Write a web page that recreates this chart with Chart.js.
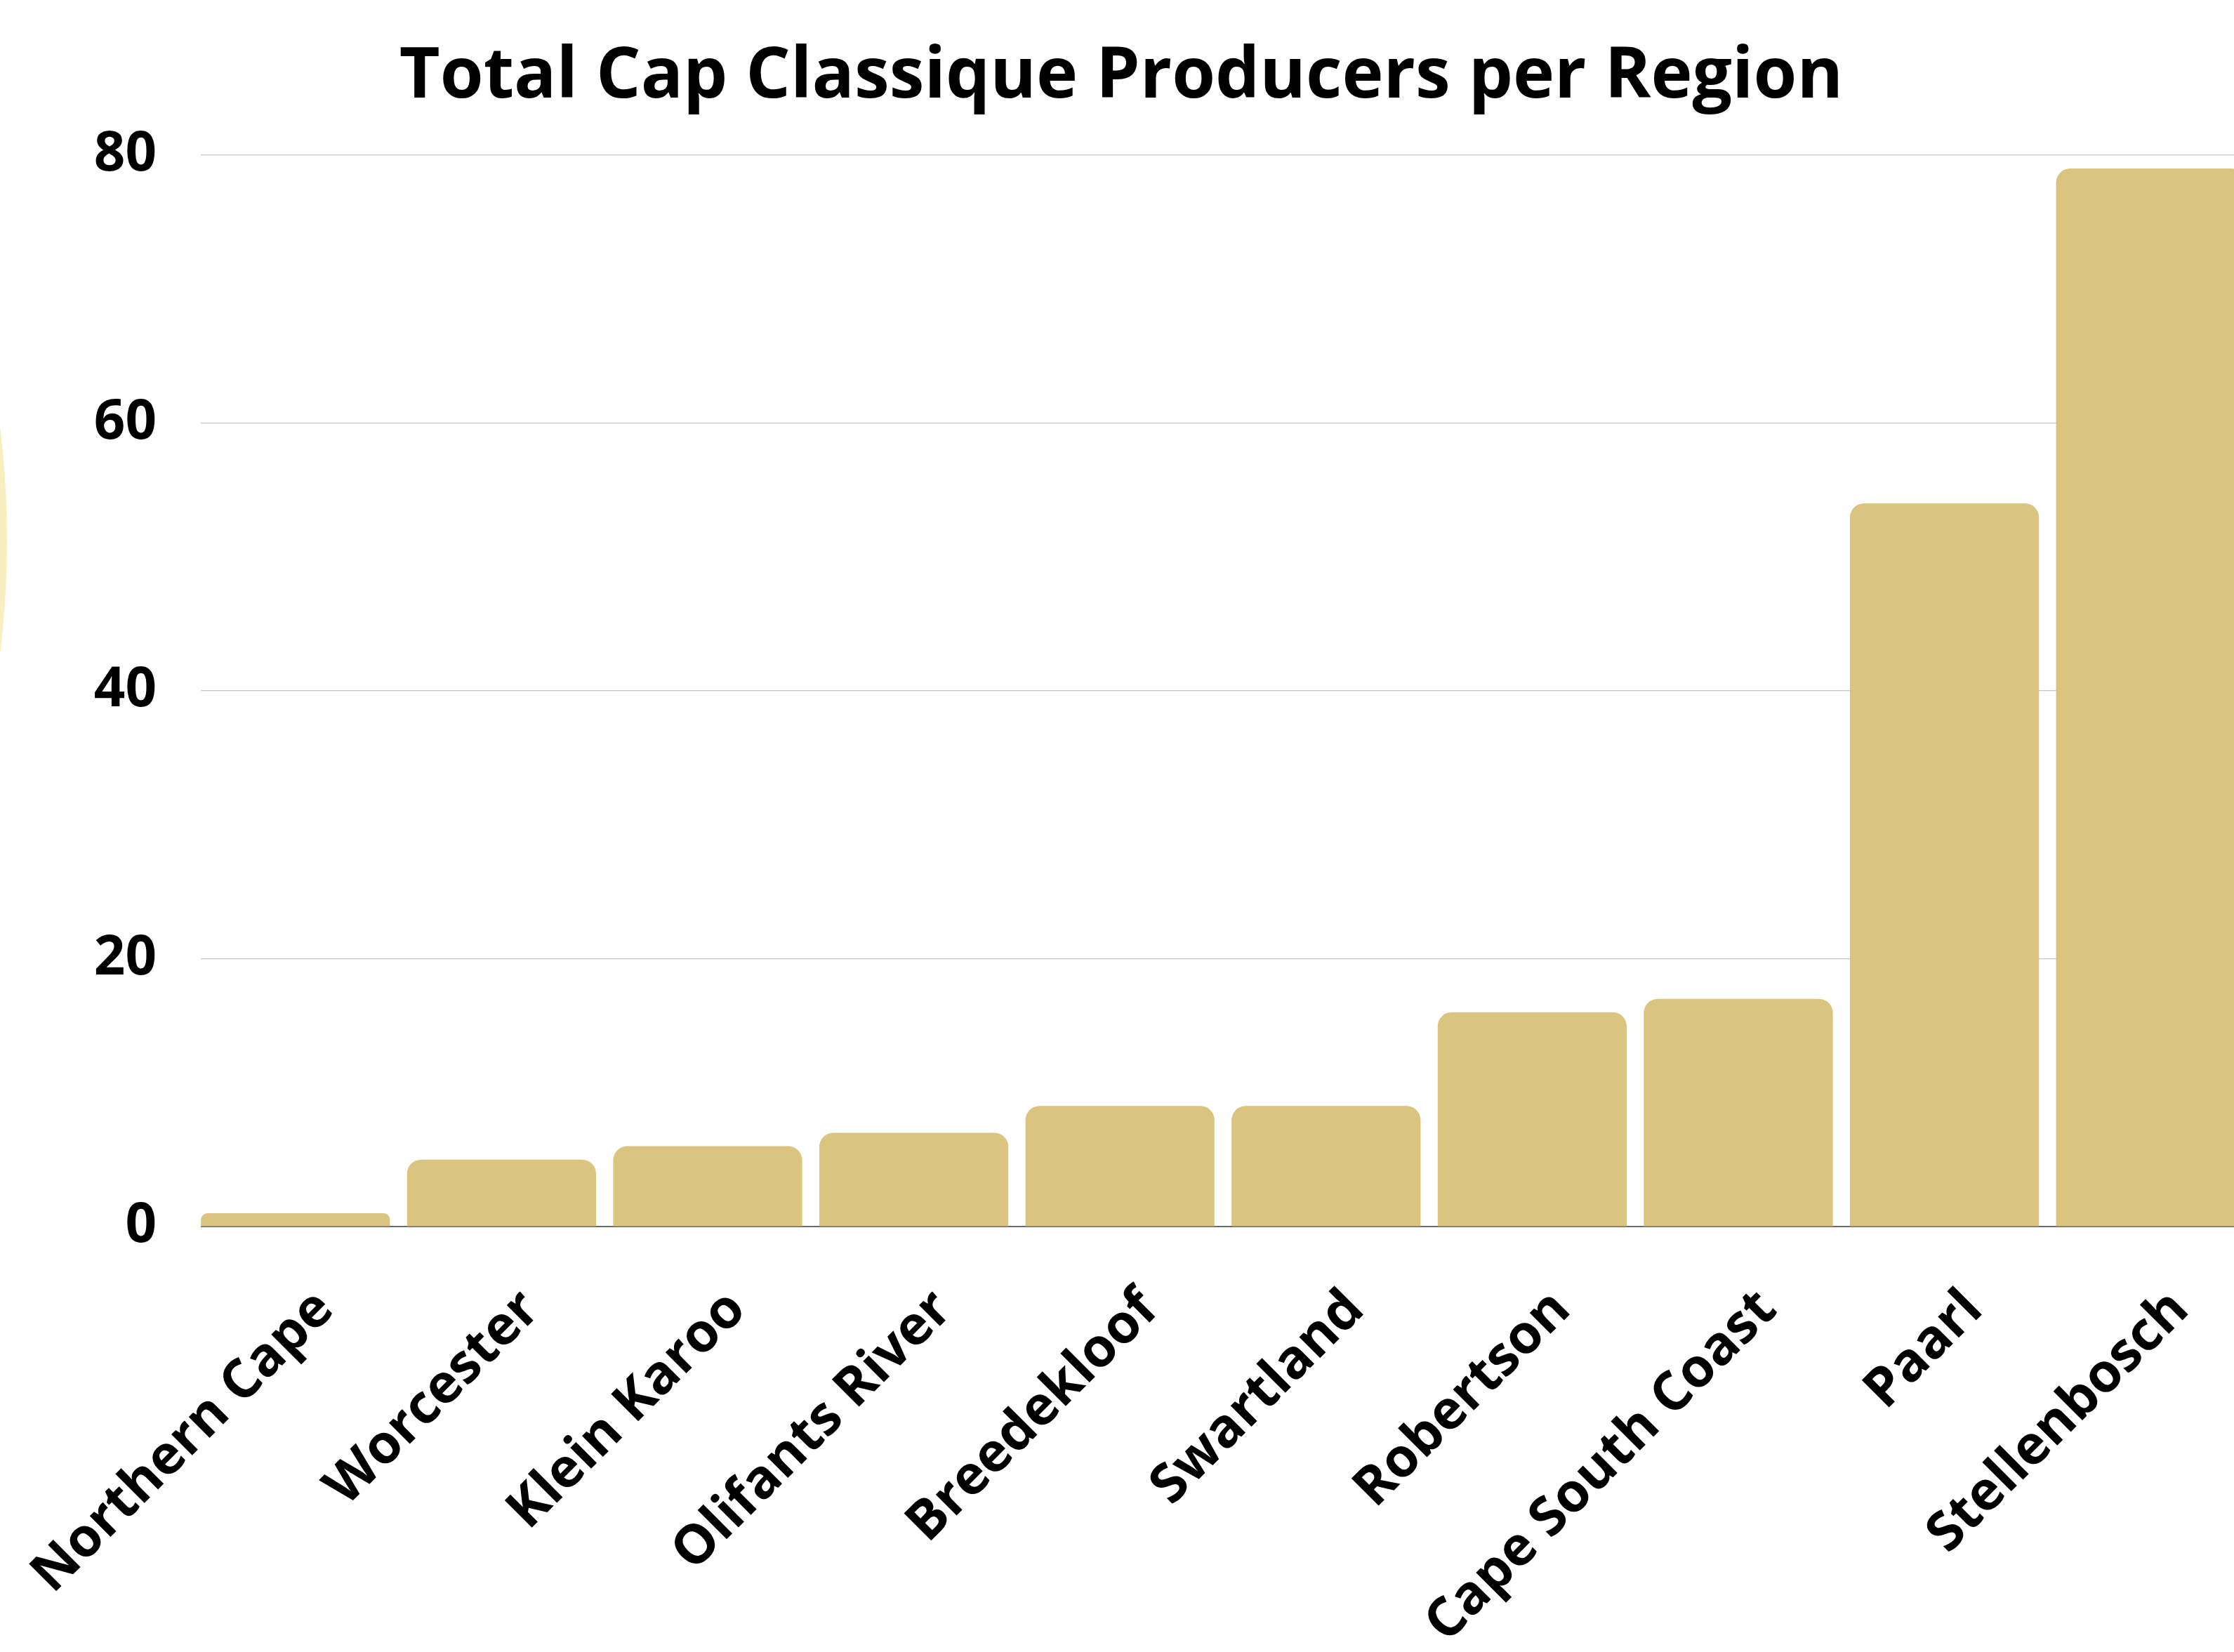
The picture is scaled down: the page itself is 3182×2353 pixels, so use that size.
<!DOCTYPE html>
<html>
<head>
<meta charset="utf-8">
<script src="https://cdn.jsdelivr.net/npm/chart.js@4.4.1/dist/chart.umd.min.js"></script>
<style>
  html, body { margin: 0; padding: 0; background: #ffffff; overflow: hidden; }
  #wrap { position: absolute; left: 0; top: 0; width: 3210px; height: 2353px; }
  canvas { display: block; }
</style>
</head>
<body>
<div id="wrap"><canvas id="c" width="3210" height="2353"></canvas></div>
<script>
// ---- data ----
const categories = ["Northern Cape", "Worcester", "Klein Karoo", "Olifants River", "Breedekloof",
                    "Swartland", "Robertson", "Cape South Coast", "Paarl", "Stellenbosch"];
const producers = [1, 5, 6, 7, 9, 9, 16, 17, 54, 79];
const yTicks = [0, 20, 40, 60, 80];
const chartTitle = "Total Cap Classique Producers per Region";

const FONT = "'Open Sans', 'DejaVu Sans', sans-serif";

// decorative pale circle at the left edge
const bgCircle = {
  id: 'bgCircle',
  beforeDraw(chart) {
    const ctx = chart.ctx;
    ctx.save();
    ctx.fillStyle = '#F8EEC0';
    ctx.beginPath();
    ctx.arc(-1307, 770, 1317, 0, Math.PI * 2);
    ctx.fill();
    ctx.restore();
  }
};

// grid lines / baseline start where the first bar starts
const trimGridStart = {
  id: 'trimGridStart',
  beforeDatasetsDraw(chart) {
    const ca = chart.chartArea;
    const meta = chart.getDatasetMeta(0);
    if (!meta.data.length) return;
    const first = meta.data[0];
    const barLeft = first.x - first.width / 2;
    const ctx = chart.ctx;
    ctx.save();
    ctx.fillStyle = '#ffffff';
    ctx.fillRect(ca.left - 2, ca.top - 3, barLeft - ca.left + 2, ca.bottom - ca.top + 6);
    ctx.restore();
  }
};

new Chart(document.getElementById('c'), {
  type: 'bar',
  data: {
    labels: categories,
    datasets: [{
      data: producers,
      backgroundColor: '#DBC47F',
      borderRadius: 20,
      borderSkipped: 'start',
      barPercentage: 0.917,
      categoryPercentage: 1.0
    }]
  },
  options: {
    responsive: false,
    animation: false,
    devicePixelRatio: 1,
    layout: { padding: { left: -16, right: 0, top: 0, bottom: 0 } },
    plugins: {
      legend: { display: false },
      tooltip: { enabled: false },
      title: {
        display: true,
        text: chartTitle,
        color: '#000000',
        font: { family: FONT, size: 100, weight: '700', lineHeight: 1.2 },
        padding: { top: 51, bottom: 50 }
      }
    },
    scales: {
      x: {
        grid: { display: false, drawTicks: false },
        border: { display: true, color: '#6b6b6b', width: 2 },
        ticks: {
          color: '#000000',
          font: { family: FONT, size: 77, weight: '700' },
          maxRotation: 45,
          minRotation: 45,
          padding: 73,
          labelOffset: 42,
          autoSkip: false
        },
        afterFit(scale) {
          scale.height = 606;
          scale.paddingLeft = 0;
          scale.paddingRight = 0;
        }
      },
      y: {
        min: 0,
        max: 80,
        afterBuildTicks(scale) { scale.ticks = yTicks.map(v => ({ value: v })); },
        grid: { color: '#c6c6c6', lineWidth: 1.2, drawTicks: false },
        border: { display: false },
        ticks: {
          color: '#000000',
          font: { family: FONT, size: 78, weight: '700' },
          padding: 51
        },
        afterFit(scale) {
          scale.width = 290;
          scale.paddingTop = 0;
          scale.paddingBottom = 0;
        }
      }
    }
  },
  plugins: [bgCircle, trimGridStart]
});
</script>
</body>
</html>
